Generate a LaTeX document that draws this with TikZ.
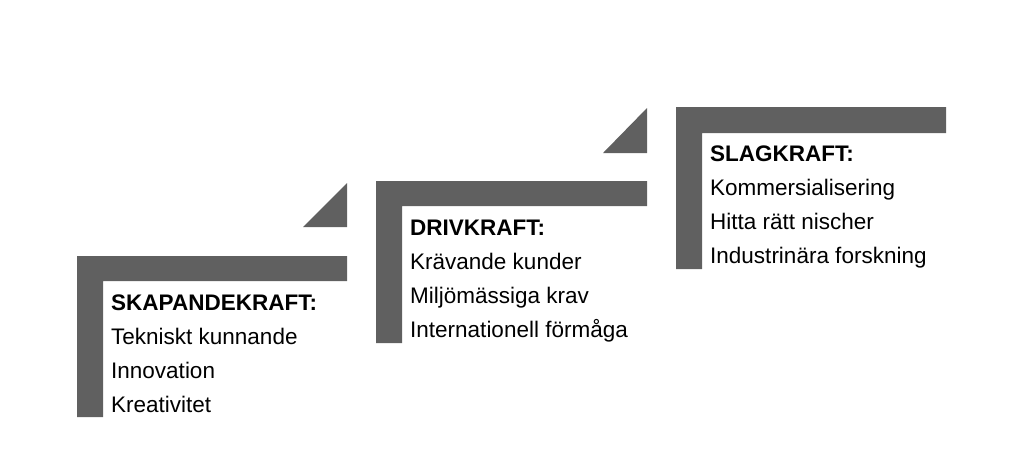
\documentclass[tikz,border=0pt]{standalone}
\usepackage{fontspec}
\setmainfont{Liberation Sans}
\definecolor{bargray}{RGB}{96,96,96}
\begin{document}
\begin{tikzpicture}[x=1pt,y=-1pt,
  bar/.style={fill=bargray,draw=none},
  txt/.style={anchor=base west,inner sep=0pt,font=\fontsize{22.5}{26}\selectfont},
  ttl/.style={txt,font=\fontsize{22.5}{26}\selectfont\bfseries}]
\useasboundingbox (0,0) rectangle (1024,467);
% block 1
\fill[bar] (77,256) -- (347,256) -- (347,281) -- (103,281) -- (103,417) -- (77,417) -- cycle;
\fill[bar] (303,227) -- (347,227) -- (347,183) -- cycle;
% block 2
\fill[bar] (376,181) -- (647,181) -- (647,206) -- (402,206) -- (402,343) -- (376,343) -- cycle;
\fill[bar] (603,153) -- (647,153) -- (647,108) -- cycle;
% block 3
\fill[bar] (676,107) -- (946,107) -- (946,133) -- (702,133) -- (702,269) -- (676,269) -- cycle;
% texts
\node[ttl] (a0) at (111,310) {SKAPANDEKRAFT:};
\node[txt] (a1) at (111,344) {Tekniskt kunnande};
\node[txt] (a2) at (111,378) {Innovation};
\node[txt] (a3) at (111,412) {Kreativitet};
\node[ttl] (b0) at (410,235) {DRIVKRAFT:};
\node[txt] (b1) at (410,269) {Krävande kunder};
\node[txt] (b2) at (410,303) {Miljömässiga krav};
\node[txt] (b3) at (410,337) {Internationell förmåga};
\node[ttl] (c0) at (710,161) {SLAGKRAFT:};
\node[txt] (c1) at (710,195) {Kommersialisering};
\node[txt] (c2) at (710,229) {Hitta rätt nischer};
\node[txt] (c3) at (710,263) {Industrinära forskning};
\end{tikzpicture}
\end{document}
